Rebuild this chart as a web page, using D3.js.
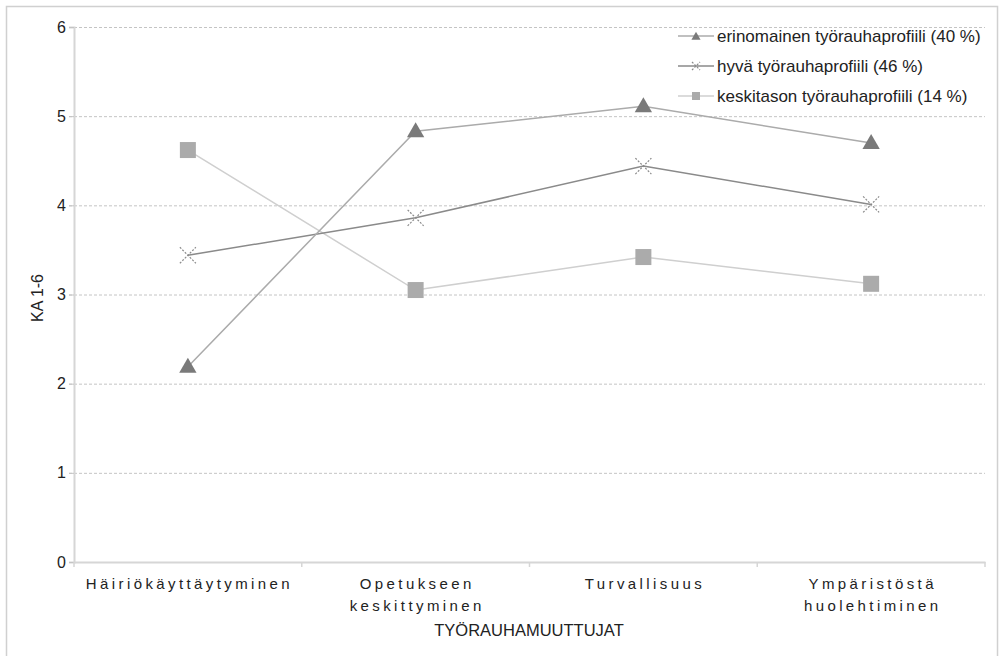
<!DOCTYPE html>
<html><head><meta charset="utf-8">
<script src="https://cdn.jsdelivr.net/npm/d3@7"></script>
<style>
body{margin:0;background:#fff;}
svg{display:block;font-family:"Liberation Sans",Arial,sans-serif;}
</style></head>
<body><svg id="c" width="1000" height="656"></svg>
<script>
const categories = [["Häiriökäyttäytyminen"],["Opetukseen","keskittyminen"],["Turvallisuus"],["Ympäristöstä","huolehtiminen"]];
const seriesNames = ["erinomainen työrauhaprofiili (40 %)","hyvä työrauhaprofiili (46 %)","keskitason työrauhaprofiili (14 %)"];
const erinomainen = [2.19, 4.83, 5.11, 4.70];
const hyva = [3.44, 3.86, 4.44, 4.01];
const keskitaso = [4.62, 3.05, 3.42, 3.12];
const yTicks = [0,1,2,3,4,5,6];
const yLabel = "KA 1-6";
const xLabel = "TYÖRAUHAMUUTTUJAT";

const svg = d3.select("#c");
const m = {l:74, r:985, t:27, b:562};
svg.append("rect").attr("x",6.5).attr("y",6.5).attr("width",991).attr("height",660)
  .attr("fill","none").attr("stroke","#d0d0d0").attr("stroke-width",1.5);

const x = d3.scaleBand().domain(d3.range(categories.length)).range([m.l,m.r]);
const y = d3.scaleLinear().domain([0,6]).range([m.b,m.t]);

// gridlines
svg.append("g").selectAll("line").data(yTicks.filter(d=>d>0)).join("line")
  .attr("x1",m.l-5).attr("x2",m.r).attr("y1",d=>y(d)+0.5).attr("y2",d=>y(d)+0.5)
  .attr("stroke","#c4c4c4").attr("stroke-dasharray","3,2");

// y axis
const ya = svg.append("g").attr("transform",`translate(${m.l},0)`)
  .call(d3.axisLeft(y).tickValues(yTicks).tickSize(5).tickPadding(3).tickFormat(d3.format("d")));
ya.select(".domain").attr("stroke","#d6d6d6").attr("stroke-width",2);
ya.selectAll(".tick line").attr("stroke","#c4c4c4");
ya.selectAll(".tick text").attr("font-size",16).attr("fill","#222").attr("font-family","Liberation Sans, Arial, sans-serif");

// x axis
const xa = svg.append("g").attr("transform",`translate(0,${m.b})`)
  .call(d3.axisBottom(x).tickSize(0).tickFormat(""));
xa.select(".domain").attr("stroke","#d6d6d6").attr("stroke-width",2);
const bounds = d3.range(categories.length+1).map(i=>m.l + i*x.step());
xa.append("g").selectAll("line").data(bounds).join("line")
  .attr("x1",d=>d).attr("x2",d=>d).attr("y1",0).attr("y2",5).attr("stroke","#d6d6d6").attr("stroke-width",1.5);
const xl = svg.append("g").selectAll("text").data(categories).join("text")
  .attr("x",(d,i)=>x(i)+x.bandwidth()/2+1.6).attr("y",589)
  .attr("text-anchor","middle").attr("font-size",15).attr("fill","#222").attr("letter-spacing","3.4px");
xl.each(function(d){
  const t=d3.select(this);
  d.forEach((s,j)=>t.append("tspan").attr("x",t.attr("x")).attr("dy",j?22:0).text(s));
});

svg.append("text").attr("x",529).attr("y",636).attr("text-anchor","middle").attr("font-size",16.5)
  .attr("fill","#222").text(xLabel);
svg.append("text").attr("transform","translate(43,298) rotate(-90)").attr("text-anchor","middle")
  .attr("font-size",16).attr("fill","#222").text(yLabel);

const series = [
  {name:seriesNames[0], vals:erinomainen, line:"#ababab", mark:"tri", fill:"#7a7a7a"},
  {name:seriesNames[1], vals:hyva, line:"#8a8a8a", mark:"x", fill:"#8a8a8a"},
  {name:seriesNames[2], vals:keskitaso, line:"#cfcfcf", mark:"sq", fill:"#ababab"}
];
const line = d3.line().x((d,i)=>x(i)+x.bandwidth()/2).y(d=>y(d));
function drawMark(g, type, fill, s){
  if(type==="tri") g.append("path").attr("d",d3.symbol(d3.symbolTriangle, s*s*0.45)()).attr("fill",fill).attr("transform","translate(0,1)");
  else if(type==="sq") g.append("rect").attr("x",-s/2).attr("y",-s/2).attr("width",s).attr("height",s).attr("fill",fill);
  else g.append("path").attr("d",`M${-s/2},${-s/2}L${s/2},${s/2}M${-s/2},${s/2}L${s/2},${-s/2}`).attr("stroke",fill).attr("stroke-width",1.2).attr("stroke-dasharray","2,1.5");
}
series.slice().reverse().forEach(se=>{
  svg.append("path").datum(se.vals).attr("d",line).attr("fill","none").attr("stroke",se.line).attr("stroke-width",1.5);
});
series.forEach(se=>{
  se.vals.forEach((v,i)=>{
    const g=svg.append("g").attr("transform",`translate(${x(i)+x.bandwidth()/2},${y(v)})`);
    drawMark(g, se.mark, se.fill, se.mark==="tri"?17:16);
  });
});

// legend
const ly=[36,66,96];
series.forEach((se,i)=>{
  const g=svg.append("g").attr("transform",`translate(0,${ly[i]})`);
  g.append("line").attr("x1",678).attr("x2",714).attr("y1",0).attr("y2",0).attr("stroke",se.line).attr("stroke-width",1.5);
  const mg=g.append("g").attr("transform","translate(696,0)");
  drawMark(mg, se.mark, se.fill, se.mark==="tri"?9:8);
  g.append("text").attr("x",717).attr("y",0).attr("dy","0.35em").attr("font-size",17).attr("fill","#222").text(se.name);
});
</script></body></html>
